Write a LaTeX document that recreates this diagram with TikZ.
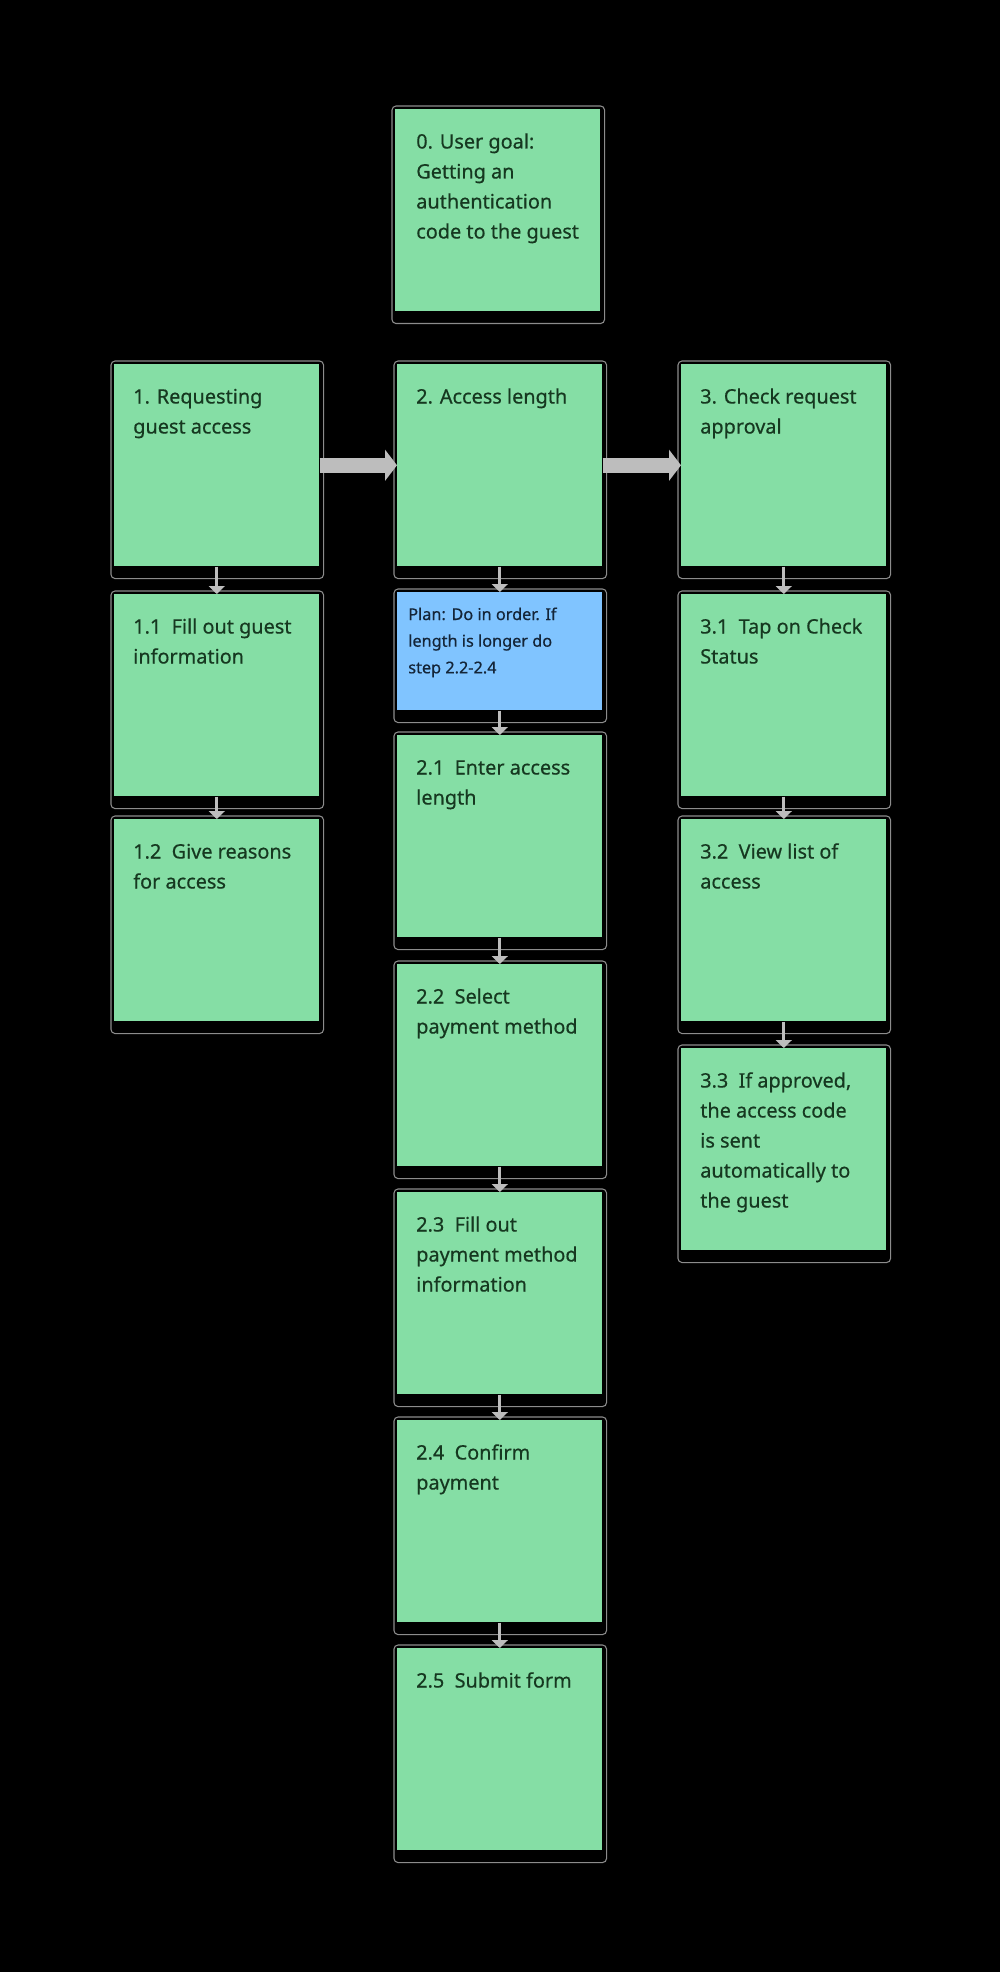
\documentclass[tikz,border=0pt]{standalone}
\usepackage{fontspec}
\setmainfont{Noto Sans}[FakeBold=0.45]
\usetikzlibrary{arrows.meta}

\definecolor{cardgreen}{HTML}{85DEA5}
\definecolor{cardblue}{HTML}{80C4FF}
\definecolor{inkgreen}{HTML}{163820}
\definecolor{inkblue}{HTML}{142538}
\definecolor{linkgray}{HTML}{BDBDBD}
\definecolor{halogray}{HTML}{C8C8C8}

% text block whose reference point is the first baseline
\newcommand{\cardlines}[1]{\parbox[t]{170pt}{\raggedright #1}}

\tikzset{
  card/.style={fill=cardgreen, draw=none, inner sep=0pt, anchor=north west,
    minimum width=153.75pt, minimum height=151.5pt},
  plancard/.style={fill=cardblue, draw=none, inner sep=0pt, anchor=north west,
    minimum width=153.75pt, minimum height=88.5pt},
  halo/.style={draw=halogray, line width=0.8pt, rounded corners=3pt, opacity=0.7},
  cardtext/.style={anchor=base west, inner sep=0pt, text=inkgreen,
    font=\fontsize{14.9pt}{22.5pt}\selectfont},
  plantext/.style={anchor=base west, inner sep=0pt, text=inkblue,
    font=\fontsize{12.2pt}{20pt}\selectfont},
  bigarrow/.style={draw=linkgray, line width=11.25pt,
    -{Triangle[length=9pt, width=23pt]}},
  linkarrow/.style={draw=linkgray, line width=2.25pt,
    -{Triangle[length=6pt, width=12pt]}},
}

\begin{document}
\begin{tikzpicture}[x=0.75pt, y=-0.75pt]
  \fill[black] (0,0) rectangle (1000,1972);
  \useasboundingbox (0,0) rectangle (1000,1972);

  % cards
  \node[card] (s0) at (395,109) {};
  \node[card] (s1) at (114,364) {};
  \node[card] (s2) at (397,364) {};
  \node[card] (s3) at (681,364) {};
  \node[card] (s11) at (114,594) {};
  \node[plancard] (plan) at (397,592) {};
  \node[card] (s31) at (681,594) {};
  \node[card] (s21) at (397,735) {};
  \node[card] (s12) at (114,819) {};
  \node[card] (s32) at (681,819) {};
  \node[card] (s22) at (397,964) {};
  \node[card] (s33) at (681,1048) {};
  \node[card] (s23) at (397,1192) {};
  \node[card] (s24) at (397,1420) {};
  \node[card] (s25) at (397,1648) {};

  % soft outline around each card
  \foreach \c in {s0,s1,s2,s3,s11,plan,s31,s21,s12,s32,s22,s33,s23,s24,s25}
    \draw[halo] ([shift={(-3,-3)}]\c.north west) rectangle ([shift={(4,12)}]\c.south east);

  % card texts
  \node[cardtext] (t0) at ([shift={(21,39.5)}]s0.north west)
    {\cardlines{0. User goal:\\Getting an\\authentication\\code to the guest}};
  \node[cardtext] (t1) at ([shift={(19,39.5)}]s1.north west)
    {\cardlines{1. Requesting\\guest access}};
  \node[cardtext] (t2) at ([shift={(19,39.5)}]s2.north west)
    {\cardlines{2. Access length}};
  \node[cardtext] (t3) at ([shift={(19,39.5)}]s3.north west)
    {\cardlines{3. Check request\\approval}};
  \node[cardtext] (t11) at ([shift={(19,39.5)}]s11.north west)
    {\cardlines{1.1\ \ Fill out guest\\information}};
  \node[plantext] (tplan) at ([shift={(11,28)}]plan.north west)
    {\cardlines{Plan: Do in order. If\\length is longer do\\step 2.2-2.4}};
  \node[cardtext] (t31) at ([shift={(19,39.5)}]s31.north west)
    {\cardlines{3.1\ \ Tap on Check\\Status}};
  \node[cardtext] (t21) at ([shift={(19,39.5)}]s21.north west)
    {\cardlines{2.1\ \ Enter access\\length}};
  \node[cardtext] (t12) at ([shift={(19,39.5)}]s12.north west)
    {\cardlines{1.2\ \ Give reasons\\for access}};
  \node[cardtext] (t32) at ([shift={(19,39.5)}]s32.north west)
    {\cardlines{3.2\ \ View list of\\access}};
  \node[cardtext] (t22) at ([shift={(19,39.5)}]s22.north west)
    {\cardlines{2.2\ \ Select\\payment method}};
  \node[cardtext] (t33) at ([shift={(19,39.5)}]s33.north west)
    {\cardlines{3.3\ \ If approved,\\the access code\\is sent\\automatically to\\the guest}};
  \node[cardtext] (t23) at ([shift={(19,39.5)}]s23.north west)
    {\cardlines{2.3\ \ Fill out\\payment method\\information}};
  \node[cardtext] (t24) at ([shift={(19,39.5)}]s24.north west)
    {\cardlines{2.4\ \ Confirm\\payment}};
  \node[cardtext] (t25) at ([shift={(19,39.5)}]s25.north west)
    {\cardlines{2.5\ \ Submit form}};

  % main flow
  \draw[bigarrow] (s1) -- (s2);
  \draw[bigarrow] (s2) -- (s3);

  % sub-steps
  \draw[linkarrow] (s1) -- (s11);
  \draw[linkarrow] (s11) -- (s12);
  \draw[linkarrow] (s2) -- (plan);
  \draw[linkarrow] (plan) -- (s21);
  \draw[linkarrow] (s21) -- (s22);
  \draw[linkarrow] (s22) -- (s23);
  \draw[linkarrow] (s23) -- (s24);
  \draw[linkarrow] (s24) -- (s25);
  \draw[linkarrow] (s3) -- (s31);
  \draw[linkarrow] (s31) -- (s32);
  \draw[linkarrow] (s32) -- (s33);
\end{tikzpicture}
\end{document}
